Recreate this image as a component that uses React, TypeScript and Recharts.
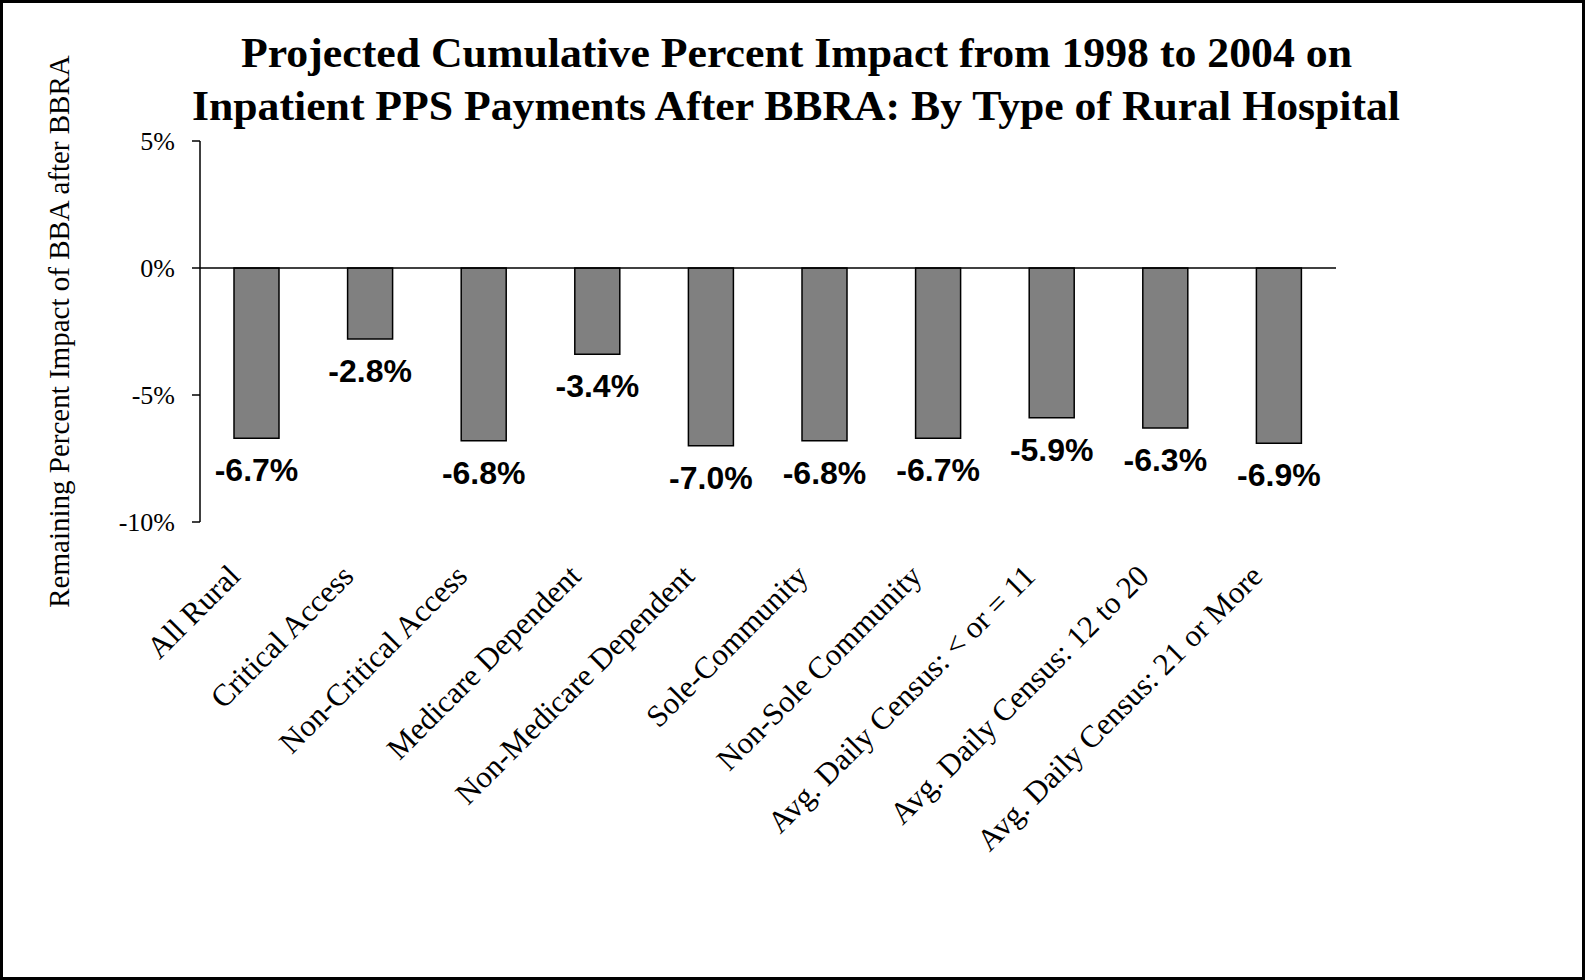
import React from 'react';
import { BarChart, Bar, XAxis, YAxis, ReferenceLine, LabelList } from 'recharts';

const categories = [
  'All Rural',
  'Critical Access',
  'Non-Critical Access',
  'Medicare Dependent',
  'Non-Medicare Dependent',
  'Sole-Community',
  'Non-Sole Community',
  'Avg. Daily Census: < or = 11',
  'Avg. Daily Census: 12 to 20',
  'Avg. Daily Census: 21 or More',
];
const impactValues = [-6.7, -2.8, -6.8, -3.4, -7.0, -6.8, -6.7, -5.9, -6.3, -6.9];
const yTicks = [5, 0, -5, -10];
const titleLines = [
  'Projected Cumulative Percent Impact from 1998 to 2004 on',
  'Inpatient PPS Payments After BBRA: By Type of Rural Hospital',
];
const yAxisTitle = 'Remaining Percent Impact of BBA after BBRA';

const data = categories.map((name, i) => ({ name, value: impactValues[i] }));

const SERIF = "'Liberation Serif', 'Times New Roman', Times, serif";
const SANS = "'Liberation Sans', Arial, Helvetica, sans-serif";

const XTick = (props: any) => {
  const { x, y, payload } = props;
  const ax = x - 15;
  const ay = y + 56;
  return (
    <text
      x={ax}
      y={ay}
      textAnchor="end"
      transform={`rotate(-45, ${ax}, ${ay})`}
      fontFamily={SERIF}
      fontSize={31}
      fill="#000"
    >
      {payload.value}
    </text>
  );
};

const ValueLabel = (props: any) => {
  const { x, y, width, height, value } = props;
  const bottom = Math.max(y, y + height);
  return (
    <text
      x={x + width / 2}
      y={bottom + 43}
      textAnchor="middle"
      fontFamily={SANS}
      fontWeight="bold"
      fontSize={32}
      fill="#000"
    >
      {`${Number(value).toFixed(1)}%`}
    </text>
  );
};

export default function App() {
  return (
    <div style={{ position: 'absolute', left: 0, top: 0, width: 1585, height: 980, background: '#fff' }}>
      <BarChart
        width={1585}
        height={980}
        data={data}
        margin={{ top: 141, right: 249, left: 0, bottom: 0 }}
        barCategoryGap={0}
      >
        <YAxis
          width={200}
          domain={[-10, 5]}
          ticks={yTicks}
          interval={0}
          axisLine={{ stroke: '#000', strokeWidth: 1.5 }}
          tickLine={{ stroke: '#000', strokeWidth: 1.5 }}
          tickSize={8}
          tickMargin={17}
          tickFormatter={(v: number) => `${v}%`}
          tick={{ fill: '#000', fontSize: 26, fontFamily: SERIF }}
        />
        <XAxis
          dataKey="name"
          height={458}
          interval={0}
          axisLine={false}
          tickLine={false}
          tickSize={0}
          tickMargin={0}
          tick={<XTick />}
        />
        <ReferenceLine y={0} stroke="#000" strokeWidth={1.5} ifOverflow="extendDomain" />
        <Bar
          dataKey="value"
          fill="#808080"
          stroke="#000"
          strokeWidth={1.5}
          barSize={45}
          isAnimationActive={false}
        >
          <LabelList dataKey="value" content={<ValueLabel />} />
        </Bar>
      </BarChart>
      <svg
        width={1585}
        height={980}
        style={{ position: 'absolute', left: 0, top: 0, pointerEvents: 'none' }}
      >
        <rect x={1.5} y={1.5} width={1582} height={977} fill="none" stroke="#000" strokeWidth={3} />
        <text
          x={796.5}
          y={66.5}
          textAnchor="middle"
          fontFamily={SERIF}
          fontWeight="bold"
          fontSize={42}
          fill="#000"
          textLength={1111}
          lengthAdjust="spacingAndGlyphs"
        >
          {titleLines[0]}
        </text>
        <text
          x={796}
          y={120}
          textAnchor="middle"
          fontFamily={SERIF}
          fontWeight="bold"
          fontSize={42}
          fill="#000"
          textLength={1208}
          lengthAdjust="spacingAndGlyphs"
        >
          {titleLines[1]}
        </text>
        <text
          x={69}
          y={331.5}
          textAnchor="middle"
          transform="rotate(-90, 69, 331.5)"
          fontFamily={SERIF}
          fontSize={29}
          fill="#000"
        >
          {yAxisTitle}
        </text>
      </svg>
    </div>
  );
}
